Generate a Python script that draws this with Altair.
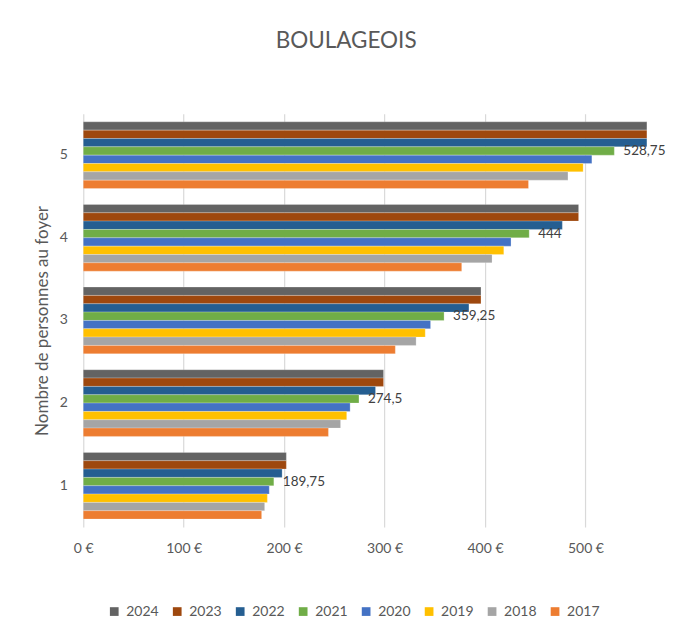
import altair as alt
import pandas as pd

categories = ["1", "2", "3", "4", "5"]
years = ["2024", "2023", "2022", "2021", "2020", "2019", "2018", "2017"]
values = {
    "2024": [202.2, 299.0, 396.0, 493.2, 561.2],
    "2023": [202.2, 299.0, 396.0, 493.2, 561.2],
    "2022": [198.0, 291.0, 384.0, 477.0, 561.2],
    "2021": [189.75, 274.5, 359.25, 444.0, 528.75],
    "2020": [185.2, 265.7, 345.8, 425.9, 506.4],
    "2019": [183.3, 262.3, 340.5, 418.7, 497.7],
    "2018": [180.6, 256.2, 331.4, 407.0, 482.6],
    "2017": [177.6, 244.1, 310.7, 376.8, 443.3],
}
colors = ["#636363", "#9E480E", "#255E91", "#70AD47", "#4472C4", "#FFC000", "#A5A5A5", "#ED7D31"]
labelled_year = "2021"
x_ticks = [0, 100, 200, 300, 400, 500]

rows = []
for y in years:
    for c, v in zip(categories, values[y]):
        lab = ("%g" % v).replace(".", ",")
        rows.append({"cat": c, "year": y, "value": v, "label": lab})
df = pd.DataFrame(rows)

FONT = "Lato"
GREY = "#595959"

y_enc = alt.Y("cat:N", sort=categories[::-1],
              scale=alt.Scale(paddingInner=0.193, paddingOuter=0.097),
              axis=alt.Axis(title="Nombre de personnes au foyer", domain=False, ticks=False,
                            labelPadding=16, labelFontSize=14, labelColor=GREY, labelFont=FONT,
                            titleFont=FONT, titleFontSize=17, titleColor=GREY,
                            titleFontWeight="normal", titlePadding=8, grid=False))
yoff = alt.YOffset("year:N", sort=years, scale=alt.Scale(domain=years, paddingInner=0, paddingOuter=0))

x_enc = alt.X("value:Q", scale=alt.Scale(domain=[0, 561.3], nice=False, zero=True),
              axis=alt.Axis(title=None, values=x_ticks, labelFlush=False,
                            labelExpr="datum.value + ' €'", domain=False, ticks=False,
                            grid=True, gridColor="#D9D9D9", gridWidth=1.2,
                            labelPadding=14, labelFontSize=14, labelColor=GREY, labelFont=FONT))

bars = alt.Chart(df).mark_bar(stroke="white", strokeWidth=0.4, strokeOpacity=0.6).encode(
    x=x_enc,
    y=y_enc,
    yOffset=yoff,
    color=alt.Color("year:N", sort=years,
                    scale=alt.Scale(domain=years, range=colors),
                    legend=alt.Legend(title=None, orient="none", direction="horizontal",
                                      columns=8, legendX=24, legendY=491,
                                      symbolType="square", symbolSize=76, symbolStrokeWidth=0,
                                      labelFontSize=14, labelColor=GREY, labelFont=FONT,
                                      labelOffset=5, columnPadding=11)),
)

texts = alt.Chart(df).transform_filter(
    alt.datum.year == labelled_year
).mark_text(align="left", baseline="middle", dx=9, fontSize=13.5, font=FONT, color="#404040").encode(
    x=alt.X("value:Q"),
    y=alt.Y("cat:N", sort=categories[::-1]),
    yOffset=yoff,
    text="label:N",
)

chart = alt.layer(bars, texts).properties(
    width=564,
    height=413.5,
    title=alt.TitleParams("BOULAGEOIS", anchor="middle", offset=61, dx=-19,
                          fontSize=22.5, font=FONT, color=GREY, fontWeight="normal"),
    padding={"left": 75.3, "top": 105.7, "right": 20, "bottom": 90},
    autosize=alt.AutoSizeParams(type="none"),
).configure_view(stroke=None)

chart.save("out.html", embed_options={"renderer": "svg", "actions": False})
